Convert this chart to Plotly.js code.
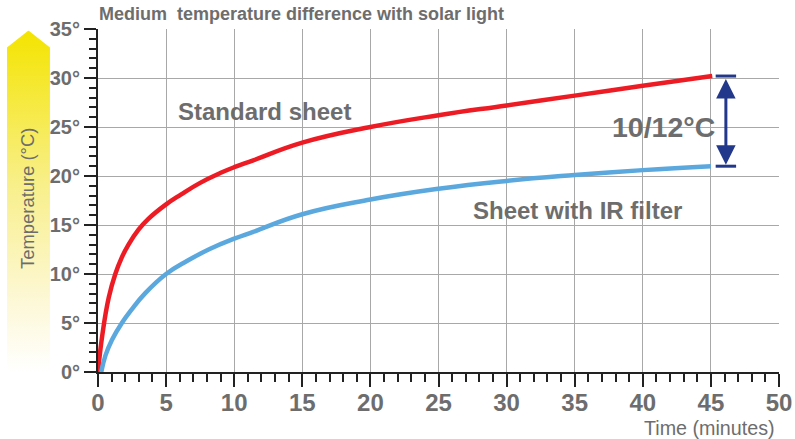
<!DOCTYPE html>
<html>
<head>
<meta charset="utf-8">
<script src="https://cdn.plot.ly/plotly-3.0.1.min.js"></script>
<style>html,body{margin:0;padding:0;background:#fff;}#chart{width:795px;height:439px;}</style>
</head>
<body>
<div id="chart"></div>
<script>
// Data
const standardX = [0, 0.31, 0.79, 1.27, 1.75, 2.24, 2.96, 3.68, 5, 6.08, 7.5, 8.97, 10, 11.4, 15, 20, 25, 30, 35, 40, 45.1];
const standardY = [0, 3.7, 7.6, 10.0, 11.7, 13.0, 14.5, 15.6, 17.1, 18.1, 19.3, 20.3, 20.9, 21.6, 23.4, 25.0, 26.2, 27.2, 28.2, 29.2, 30.2];
const irX = [0.24, 0.55, 1.03, 1.75, 2.48, 3.44, 5, 6.56, 8.2, 10, 11.4, 15, 20, 25, 30, 35, 40, 45];
const irY = [0, 1.7, 3.3, 5.0, 6.4, 8.0, 10.0, 11.35, 12.55, 13.6, 14.3, 16.1, 17.6, 18.7, 19.5, 20.1, 20.6, 21.0];
const xTicks = [0, 5, 10, 15, 20, 25, 30, 35, 40, 45, 50];
const yTicks = [0, 5, 10, 15, 20, 25, 30, 35];
const yTickLabels = ['0°', '5°', '10°', '15°', '20°', '25°', '30°', '35°'];
const diffArrowX = 46.1;
const diffArrowTop = 30.2;
const diffArrowBottom = 21.0;
const diffLabel = '10/12°C';

const gray = '#6d6d6d';
const navy = '#22388a';
const fam = 'Liberation Sans, Arial, sans-serif';

const svg = '<svg xmlns="http://www.w3.org/2000/svg" viewBox="0 0 43 342" preserveAspectRatio="none">' +
  '<defs><linearGradient id="g" x1="0" y1="0" x2="0" y2="1">' +
  '<stop offset="0" stop-color="#f4e400"/>' +
  '<stop offset="0.45" stop-color="#f8ef8a"/>' +
  '<stop offset="0.8" stop-color="#fdf8d8"/>' +
  '<stop offset="1" stop-color="#ffffff"/>' +
  '</linearGradient></defs>' +
  '<path d="M0,17 L21.5,0 L43,17 L43,342 L0,342 Z" fill="url(#g)"/></svg>';
const svgUri = 'data:image/svg+xml;charset=utf-8,' + encodeURIComponent(svg);

const traces = [
  {x: standardX, y: standardY, type: 'scatter', mode: 'lines',
   line: {color: '#ed1c24', width: 4.5, shape: 'spline', smoothing: 1.3}, hoverinfo: 'skip'},
  {x: irX, y: irY, type: 'scatter', mode: 'lines',
   line: {color: '#5aa8de', width: 4.5, shape: 'spline', smoothing: 1.3}, hoverinfo: 'skip'}
];

const axisCommon = {
  showline: true, linecolor: '#222', linewidth: 2,
  showgrid: true, gridcolor: '#a8a8a8', gridwidth: 1,
  zeroline: false, ticks: 'outside', tickcolor: '#222', tickwidth: 2,
  fixedrange: true
};

const layout = {
  width: 795, height: 439,
  margin: {l: 98, r: 16, t: 29, b: 67},
  paper_bgcolor: '#fff', plot_bgcolor: '#fff',
  showlegend: false,
  xaxis: Object.assign({}, axisCommon, {
    range: [0, 50], tickmode: 'array', tickvals: xTicks, ticklen: 13, ticklabelstandoff: -5,
    tickfont: {family: fam, size: 24, weight: 'bold', color: gray},
    minor: {dtick: 1, ticks: 'outside', ticklen: 8, tickcolor: '#222', tickwidth: 2, showgrid: false}
  }),
  yaxis: Object.assign({}, axisCommon, {
    range: [0, 35], tickmode: 'array', tickvals: yTicks, ticktext: yTickLabels, ticklen: 12,
    tickfont: {family: fam, size: 20, weight: 'bold', color: gray},
    minor: {dtick: 1, ticks: 'outside', ticklen: 7, tickcolor: '#222', tickwidth: 2, showgrid: false}
  }),
  images: [{
    source: svgUri, xref: 'paper', yref: 'paper',
    x: -0.1337, y: 0.9956, sizex: 0.0632, sizey: 0.9956,
    xanchor: 'left', yanchor: 'top', sizing: 'stretch', layer: 'below'
  }],
  shapes: [
    {type: 'line', xref: 'x', yref: 'y', x0: diffArrowX - 0.75, x1: diffArrowX + 0.75, y0: diffArrowTop, y1: diffArrowTop, line: {color: navy, width: 3}},
    {type: 'line', xref: 'x', yref: 'y', x0: diffArrowX - 0.75, x1: diffArrowX + 0.75, y0: diffArrowBottom, y1: diffArrowBottom, line: {color: navy, width: 3}}
  ],
  annotations: [
    {text: 'Medium  temperature difference with solar light', xref: 'paper', yref: 'paper',
     x: 0, y: 1, xanchor: 'left', yanchor: 'bottom', yshift: 3, xshift: -1, showarrow: false,
     font: {family: fam, size: 18, weight: 'bold', color: gray}},
    {text: 'Standard sheet', xref: 'x', yref: 'y', x: 12.2, y: 26.6, showarrow: false,
     font: {family: fam, size: 24, weight: 'bold', color: gray}},
    {text: 'Sheet with IR filter', xref: 'x', yref: 'y', x: 35.2, y: 16.5, showarrow: false,
     font: {family: fam, size: 24, weight: 'bold', color: gray}},
    {text: diffLabel, xref: 'x', yref: 'y', x: 45.47, y: 25.0, xanchor: 'right', showarrow: false,
     font: {family: fam, size: 28.5, weight: 'bold', color: gray}},
    {text: 'Temperature (°C)', xref: 'paper', yref: 'paper', x: -0.1026, y: 0.505,
     xanchor: 'center', yanchor: 'middle', textangle: -90, showarrow: false,
     font: {family: fam, size: 18.4, color: gray}},
    {text: 'Time (minutes)', xref: 'paper', yref: 'paper', x: 1, y: 0, xanchor: 'right', yanchor: 'top',
     yshift: -43, xshift: -2, showarrow: false,
     font: {family: fam, size: 19.7, color: gray}},
    {text: '', xref: 'x', yref: 'y', axref: 'x', ayref: 'y',
     x: diffArrowX, y: diffArrowBottom, ax: diffArrowX, ay: diffArrowTop,
     showarrow: true, arrowside: 'end+start', arrowhead: 2, arrowsize: 1.3, arrowwidth: 3,
     arrowcolor: navy, standoff: 1.5, startstandoff: 1.5}
  ]
};

Plotly.newPlot('chart', traces, layout, {staticPlot: true, displayModeBar: false});
</script>
</body>
</html>
